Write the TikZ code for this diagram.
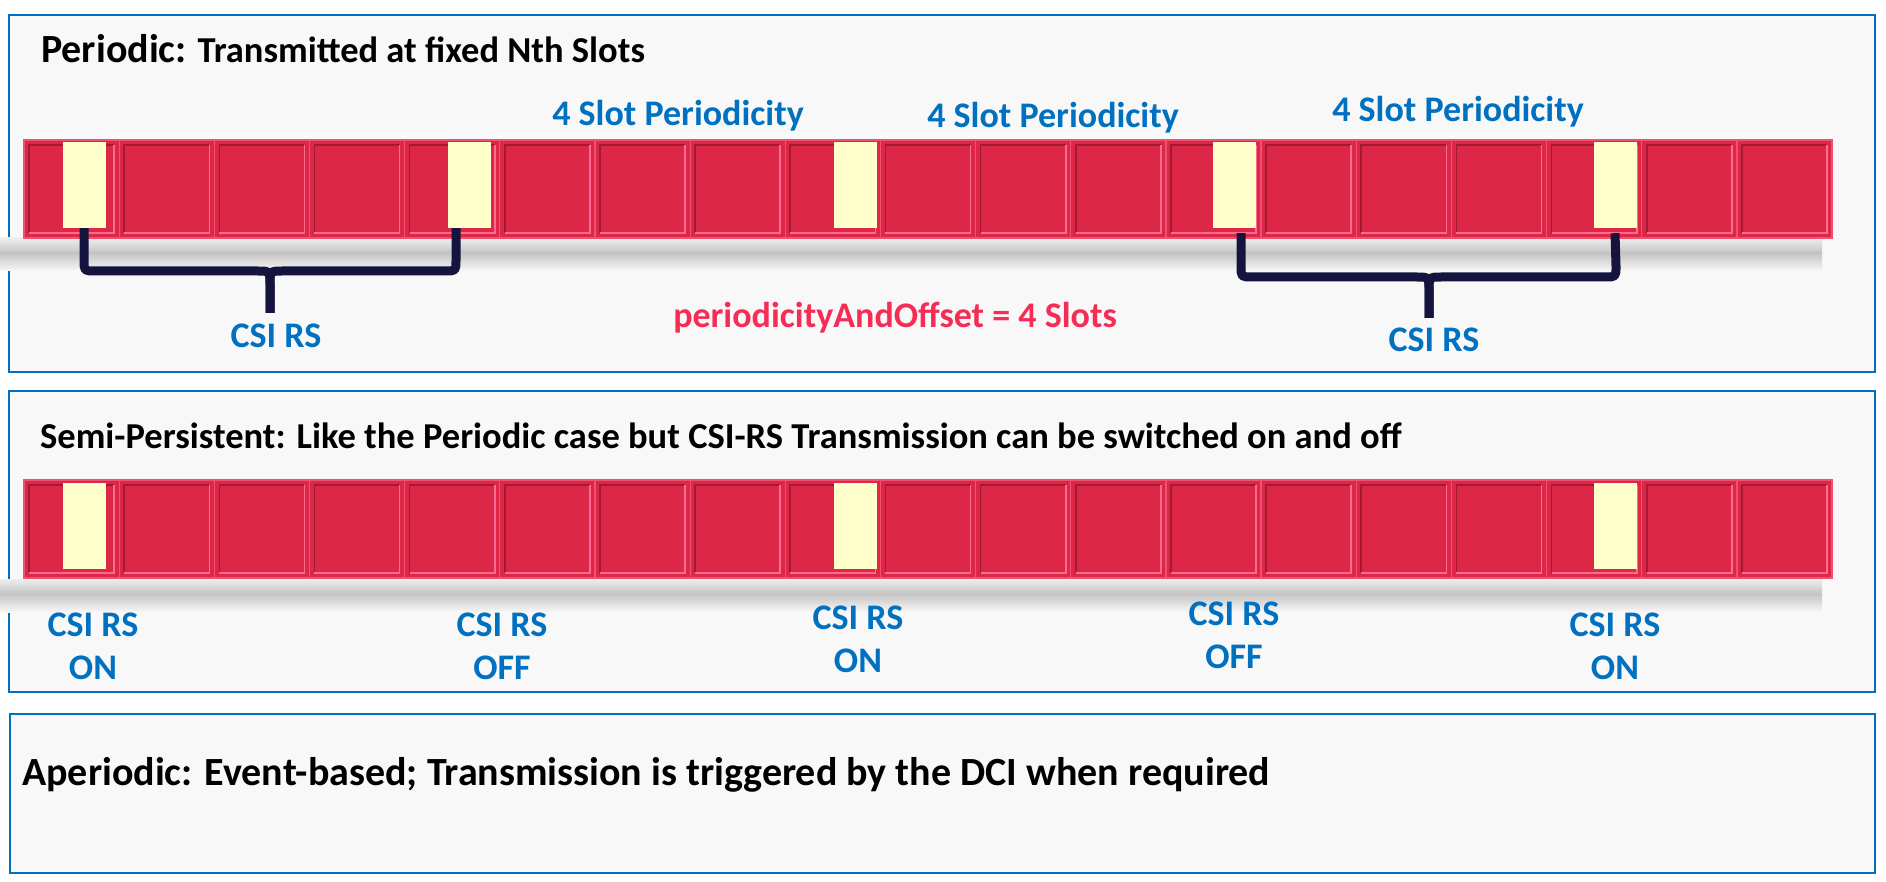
\documentclass[tikz,border=0pt]{standalone}
\usepackage{fontspec}
\setmainfont{Carlito}
\usepackage{tikz}
\usetikzlibrary{positioning,calc}

\definecolor{panelblue}{HTML}{0070C0}
\definecolor{panelbg}{HTML}{F8F8F8}
\definecolor{slotred}{HTML}{DC2846}
\definecolor{slotdark}{HTML}{A41A34}
\definecolor{slotlight}{HTML}{FF6A90}
\definecolor{csiyellow}{HTML}{FFFFCC}
\definecolor{bracenavy}{HTML}{14143F}
\definecolor{offsetred}{HTML}{F52D55}
\definecolor{shadowgray}{HTML}{C4C4C4}

\tikzset{
  panel/.style={draw=panelblue,line width=2.5pt,fill=panelbg},
  slot/.style={draw=slotlight!60!slotred,line width=1.2pt,fill=slotred,
    minimum width=95.16pt,minimum height=98pt,inner sep=0pt,
    path picture={
      \draw[slotdark,line width=1.6pt]
        ([shift={(5pt,5pt)}]path picture bounding box.south west) --
        ([shift={(5pt,-5pt)}]path picture bounding box.north west) --
        ([shift={(-5pt,-5pt)}]path picture bounding box.north east);
      \draw[slotlight,line width=1.6pt]
        ([shift={(-5pt,-5pt)}]path picture bounding box.north east) --
        ([shift={(-5pt,5pt)}]path picture bounding box.south east) --
        ([shift={(5pt,5pt)}]path picture bounding box.south west);
    }},
  csi/.style={fill=csiyellow,minimum width=43pt,minimum height=86pt,inner sep=0pt},
  brace/.style={draw=bracenavy,line width=9pt,line join=round},
  heading/.style={anchor=base west,inner sep=0pt,font=\bfseries\fontsize{36.5}{44}\selectfont},
  bluelabel/.style={text=panelblue,inner sep=0pt,align=center,
    font=\bfseries\fontsize{36}{43}\selectfont},
}

\begin{document}
\begin{tikzpicture}[x=1pt,y=-1pt]
  \useasboundingbox (0,0) rectangle (1886,882);
  \fill[white] (0,0) rectangle (1886,882);

  % the three panels
  \draw[panel] (9,15) rectangle (1875,372);
  \draw[panel] (9,391) rectangle (1875,692);
  \draw[panel] (10,714) rectangle (1875,873);

  % shadows under the slot bars
  \shade[top color=panelbg!80!shadowgray,bottom color=shadowgray] (0,238) rectangle (1822,253);
  \shade[top color=shadowgray,bottom color=panelbg] (0,253) rectangle (1822,271);
  \shade[top color=panelbg!80!shadowgray,bottom color=shadowgray] (0,579) rectangle (1822,594);
  \shade[top color=shadowgray,bottom color=panelbg] (0,594) rectangle (1822,612);

  % slots
  \foreach \i in {1,...,19} {
    \node[slot] (p\i) at ({24+95.16*(\i-0.5)},189) {};
    \node[slot] (s\i) at ({24+95.16*(\i-0.5)},529) {};
  }

  % CSI-RS occasions
  \node[csi] (pc1) at (84,185) {};
  \node[csi] (pc5) at (469,185) {};
  \node[csi] (pc9) at (855,185) {};
  \node[csi] (pc13) at (1234,185) {};
  \node[csi] (pc17) at (1615,185) {};
  \node[csi] (sc1) at (84,526) {};
  \node[csi] (sc9) at (855,526) {};
  \node[csi] (sc17) at (1615,526) {};

  % braces
  \coordinate (tip1) at (270,313);
  \coordinate (tip2) at (1429,318);
  \draw[brace] (pc1.south) -- (84,260) .. controls (84,271) .. (95,271)
    -- (258,271) .. controls (270,271) .. (270,286) -- (tip1);
  \draw[brace] ([xshift=-13pt]pc5.south) -- (456,260) .. controls (456,271) .. (445,271)
    -- (282,271) .. controls (270,271) .. (270,286) -- (tip1);
  \draw[brace] ([shift={(7pt,-5pt)}]pc13.south) -- (1241,266) .. controls (1241,277) .. (1252,277)
    -- (1417,277) .. controls (1429,277) .. (1429,292) -- (tip2);
  \draw[brace] ([yshift=-5pt]pc17.south) -- (1616,266) .. controls (1616,277) .. (1605,277)
    -- (1441,277) .. controls (1429,277) .. (1429,292) -- (tip2);

  % texts
  \node[heading] (periodic) at (41,63)
    {{\fontsize{40}{48}\selectfont Periodic:} Transmitted at fixed Nth Slots};
  \node[bluelabel,anchor=base] (per1) at (678,126) {4 Slot Periodicity};
  \node[bluelabel,anchor=base] (per2) at (1053,128) {4 Slot Periodicity};
  \node[bluelabel,anchor=base] (per3) at (1458,122) {4 Slot Periodicity};
  \node[bluelabel,anchor=base] (rs1) at (276,347) {CSI RS};
  \node[bluelabel,anchor=base] (rs2) at (1434,352) {CSI RS};
  \node[bluelabel,anchor=base,text=offsetred] (offset) at (895,327)
    {periodicityAndOffset = 4 Slots};

  \node[heading] (semi) at (40,448)
    {Semi-Persistent: Like the Periodic case but CSI-RS Transmission can be switched on and off};
  \node[bluelabel,anchor=north] (on1) at (93,613) {CSI RS\\ON};
  \node[bluelabel,anchor=north] (off1) at (502,613) {CSI RS\\OFF};
  \node[bluelabel,anchor=north] (on2) at (858,606) {CSI RS\\ON};
  \node[bluelabel,anchor=north] (off2) at (1234,602) {CSI RS\\OFF};
  \node[bluelabel,anchor=north] (on3) at (1615,613) {CSI RS\\ON};

  \node[heading,font=\bfseries\fontsize{40}{48}\selectfont] (aperiodic) at (22,785)
    {Aperiodic: Event-based; Transmission is triggered by the DCI when required};
\end{tikzpicture}
\end{document}
